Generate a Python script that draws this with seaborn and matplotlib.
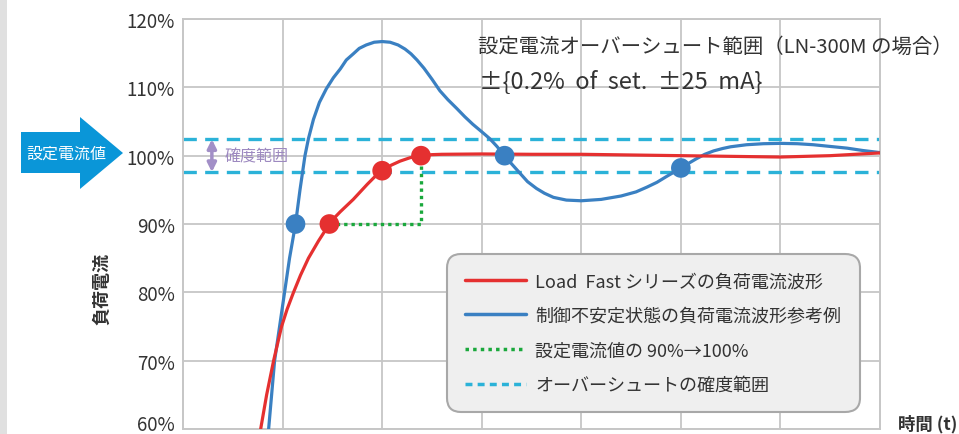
import matplotlib
matplotlib.use("Agg")
import matplotlib.pyplot as plt
import matplotlib.transforms as mtransforms
import seaborn as sns
import pandas as pd
from matplotlib.lines import Line2D
from matplotlib.patches import Polygon, Rectangle

# ---------------- data ----------------
red_x = [0.78, 0.81, 0.84, 0.875, 0.91, 0.95, 0.99, 1.045, 1.11, 1.18, 1.26, 1.36, 1.47,
         1.52, 1.58, 1.645, 1.71, 1.78, 1.85, 1.925, 2.00, 2.09, 2.18, 2.28, 2.39,
         2.50, 2.60, 3.00, 3.50, 4.00, 4.50, 5.00, 5.50, 6.00, 6.50, 7.00]
red_y = [60.0, 62.5, 65.0, 67.5, 70.0, 72.5, 75.0, 77.5, 80.0, 82.5, 85.0, 87.5, 90.0,
         90.9, 91.8, 92.7, 93.6, 94.7, 95.8, 96.9, 97.8, 98.6, 99.2, 99.7, 100.0,
         100.15, 100.2, 100.25, 100.2, 100.2, 100.1, 100.0, 99.9, 99.8, 100.0, 100.4]

blue_x = [0.86, 0.89, 0.92, 0.97, 1.02, 1.07, 1.13, 1.175, 1.225, 1.26, 1.31, 1.37, 1.44,
          1.51, 1.58, 1.64, 1.71, 1.77, 1.84, 1.92, 2.00, 2.08, 2.16, 2.23, 2.29, 2.35,
          2.42, 2.50, 2.58, 2.66, 2.75, 2.83, 2.91, 3.00, 3.08, 3.15, 3.23, 3.30, 3.38,
          3.46, 3.55, 3.63, 3.72, 3.85, 4.00, 4.20, 4.40, 4.55, 4.66, 4.76, 4.85, 4.92,
          5.00, 5.08, 5.15, 5.24, 5.33, 5.42, 5.50, 5.66, 5.83, 6.00, 6.17, 6.33, 6.50,
          6.67, 6.83, 7.00]
blue_y = [60.0, 65.0, 70.0, 75.0, 80.0, 85.0, 90.0, 95.0, 100.0, 102.5, 105.3, 107.8, 109.8,
          111.4, 112.7, 114.0, 114.9, 115.7, 116.2, 116.6, 116.7, 116.6, 116.2, 115.6, 114.9, 114.0,
          112.8, 111.2, 109.5, 108.2, 106.9, 105.7, 104.6, 103.5, 102.5, 101.4, 100.0, 98.8, 97.5,
          96.2, 95.2, 94.5, 93.9, 93.5, 93.4, 93.6, 94.1, 94.7, 95.4, 96.1, 96.9, 97.5,
          98.2, 98.9, 99.5, 100.2, 100.7, 101.05, 101.3, 101.6, 101.75, 101.8, 101.75, 101.6, 101.35,
          101.1, 100.75, 100.45]

red_dot_x = [1.47, 2.00, 2.39]
red_dot_y = [90.0, 97.8, 100.0]
blue_dot_x = [1.13, 3.23, 5.00]
blue_dot_y = [90.0, 100.0, 98.2]

green_x = [1.47, 2.39, 2.39]
green_y = [90.0, 90.0, 100.0]

band = [97.6, 102.4]
set_value = 100.0

y_ticks = [60, 70, 80, 90, 100, 110, 120]
y_tick_labels = ["60%", "70%", "80%", "90%", "100%", "110%", "120%"]
x_grid = [1, 2, 3, 4, 5, 6]

legend_labels = ["Load  Fast シリーズの負荷電流波形",
                 "制御不安定状態の負荷電流波形参考例",
                 "設定電流値の 90%→100%",
                 "オーバーシュートの確度範囲"]
note_line1 = "設定電流オーバーシュート範囲（LN-300M の場合）"
note_line2 = "±{0.2%  of  set.  ±25  mA}"
y_label = "負荷電流"
x_label = "時間 (t)"
arrow_label = "設定電流値"
band_label = "確度範囲"

# ---------------- style ----------------
sns.set_theme(style="white")
plt.rcParams["font.family"] = ["Noto Sans CJK JP", "DejaVu Sans"]

RED = "#e53030"
BLUE = "#3a80c2"
GREEN = "#1aa83c"
CYAN = "#2bb2d8"
GRID = "#c6c6c6"
TXT = "#333333"
PURPLE = "#9d89c0"

W, H = 959, 435
fig = plt.figure(figsize=(W / 100, H / 100), dpi=100)
ax = fig.add_axes([183 / W, 1 - 430 / H, 697 / W, 410 / H])

# faint grey strip at the left edge
fig.patches.append(Rectangle((0, 0), 7 / W, 1, transform=fig.transFigure,
                             facecolor="#e0e0e0", edgecolor="none", zorder=0))

df_red = pd.DataFrame({"x": red_x, "y": red_y})
df_blue = pd.DataFrame({"x": blue_x, "y": blue_y})
df_green = pd.DataFrame({"x": green_x, "y": green_y})

ax.set_xlim(0, 7)
ax.set_ylim(60, 120)
ax.set_xticks(x_grid)
ax.set_xticklabels([])
ax.set_yticks(y_ticks)
ax.set_yticklabels(y_tick_labels, fontsize=13.5, color=TXT)
ax.tick_params(axis="both", length=0, pad=6)
ax.grid(True, color=GRID, lw=1.3)
ax.set_axisbelow(True)
for s in ax.spines.values():
    s.set_color(GRID)
    s.set_linewidth(1.4)

# lift the bottom tick label a little so it stays inside the picture
lbl = ax.get_yticklabels()[0]
lbl.set_transform(lbl.get_transform() +
                  mtransforms.ScaledTranslation(0, 7 / 100, fig.dpi_scale_trans))

# confidence band lines
for b in band:
    ax.axhline(b, color=CYAN, lw=2.4, ls=(0, (4, 2.5)), zorder=2)

sns.lineplot(data=df_green, x="x", y="y", sort=False, estimator=None, ax=ax,
             color=GREEN, lw=2.4, ls=(0, (1, 1.2)), zorder=3)
sns.lineplot(data=df_blue, x="x", y="y", sort=False, estimator=None, ax=ax,
             color=BLUE, lw=2.3, zorder=4)
sns.lineplot(data=df_red, x="x", y="y", sort=False, estimator=None, ax=ax,
             color=RED, lw=2.3, zorder=5)
sns.scatterplot(x=blue_dot_x, y=blue_dot_y, ax=ax, color=BLUE, s=200,
                edgecolor="none", zorder=6)
sns.scatterplot(x=red_dot_x, y=red_dot_y, ax=ax, color=RED, s=200,
                edgecolor="none", zorder=7)
ax.set_xlabel("")
ax.set_ylabel("")

# purple double arrow and label
ax.annotate("", xy=(0.29, band[1]), xytext=(0.29, band[0]),
            arrowprops=dict(arrowstyle="<|-|>", color="#a28fc7", lw=2.5,
                            mutation_scale=13, shrinkA=0, shrinkB=0), zorder=8)
ax.text(0.42, set_value, band_label, color=PURPLE, fontsize=11.5,
        ha="left", va="center", zorder=8)

# overshoot note
fig.text(478 / W, 1 - 47 / H, note_line1, fontsize=14.7, color=TXT, ha="left", va="center")
fig.text(479 / W, 1 - 82 / H, note_line2, fontsize=17, color=TXT, ha="left", va="center")

# axis labels
fig.text(102 / W, 1 - 289 / H, y_label, rotation=90, fontsize=13, color=TXT,
         fontweight="bold", ha="center", va="center")
fig.text(898 / W, 1 - 424 / H, x_label, fontsize=12.5, color=TXT,
         fontweight="bold", ha="left", va="center")

# blue arrow at left
pts = [(21, 133), (80, 133), (80, 118), (123, 154), (80, 190), (80, 174), (21, 174)]
poly = Polygon([(px / W, 1 - py / H) for px, py in pts], closed=True,
               transform=fig.transFigure, facecolor="#0a96d8", edgecolor="none")
fig.patches.append(poly)
fig.text(66 / W, 1 - 154 / H, arrow_label, fontsize=11.5, color="white",
         ha="center", va="center")

# legend
handles = [Line2D([], [], color=RED, lw=2.5),
           Line2D([], [], color=BLUE, lw=2.5),
           Line2D([], [], color=GREEN, lw=2.5, ls=(0, (1, 1.2))),
           Line2D([], [], color=CYAN, lw=2.5, ls=(0, (2, 1.5)))]
leg = ax.legend(handles, legend_labels, loc="upper left",
                bbox_to_anchor=(447 / W, 1 - 255 / H), bbox_transform=fig.transFigure,
                borderaxespad=0, fontsize=13, frameon=True, fancybox=True,
                facecolor="#efefef", edgecolor="#a8a8a8", framealpha=1,
                handlelength=3.4, handletextpad=0.5, labelspacing=0.92,
                borderpad=1.0)
leg.get_frame().set_linewidth(1.5)
leg.get_frame().set_boxstyle("round,pad=0,rounding_size=0.8")
for t in leg.get_texts():
    t.set_color(TXT)
leg.set_zorder(10)

fig.savefig("out.png", dpi=100)
